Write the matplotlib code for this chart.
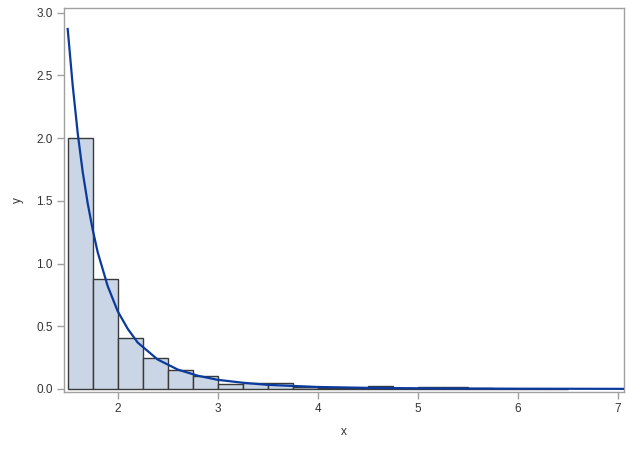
import matplotlib
matplotlib.use("Agg")
import matplotlib.pyplot as plt

# Histogram bins (left edges) and heights (density)
bin_left = [1.5, 1.75, 2.0, 2.25, 2.5, 2.75, 3.0, 3.25, 3.5, 3.75,
            4.0, 4.25, 4.5, 4.75, 5.0, 5.25, 5.5, 5.75, 6.0, 6.25]
bin_height = [2.00, 0.88, 0.41, 0.245, 0.15, 0.10, 0.04, 0.05, 0.045, 0.012,
              0.005, 0.005, 0.02, 0.008, 0.012, 0.012, 0.004, 0.003, 0.003, 0.003]
bin_width = 0.25

# Fitted density curve
curve_x = [1.5, 1.55, 1.6, 1.65, 1.7, 1.75, 1.8, 1.9, 2.0, 2.1, 2.2, 2.4,
           2.6, 2.8, 3.0, 3.25, 3.5, 4.0, 4.5, 5.0, 5.5, 6.0, 7.0, 7.06]
curve_y = [2.87, 2.42, 2.04, 1.73, 1.48, 1.27, 1.09, 0.82, 0.62, 0.48, 0.37, 0.235,
           0.155, 0.106, 0.073, 0.05, 0.033, 0.016, 0.009, 0.0055, 0.0035, 0.0023, 0.0011, 0.001]

x_ticks = [2, 3, 4, 5, 6, 7]
y_ticks = [0.0, 0.5, 1.0, 1.5, 2.0, 2.5, 3.0]

plt.rcParams['font.family'] = ['Liberation Sans', 'DejaVu Sans']

fig = plt.figure(figsize=(6.32, 4.5), dpi=100)
ax = fig.add_axes([64/632, 1-392/450, (624.3-64)/632, (392-8.3)/450])

ax.bar(bin_left, bin_height, width=bin_width, align='edge',
       color='#CAD5E5', edgecolor='#3a3a3a', linewidth=1.0, zorder=2)
ax.plot(curve_x, curve_y, color='#0B3A9E', linewidth=1.6, zorder=3)

ax.set_xlim(1.463, 7.066)
ax.set_ylim(-0.024, 3.035)
ax.set_xticks(x_ticks)
ax.set_xticklabels([str(v) for v in x_ticks])
ax.set_yticks(y_ticks)
ax.set_yticklabels([f"{v:.1f}" for v in y_ticks])

for s in ax.spines.values():
    s.set_color('#A0A0A0')
    s.set_linewidth(1.0)
ax.tick_params(axis='both', colors='#A0A0A0', labelcolor='#333333',
               length=5, width=1.0, labelsize=8.5, pad=3)

ax.set_xlabel('x', fontsize=8.5, color='#333333', labelpad=8)
ax.set_ylabel('y', fontsize=8.5, color='#333333', labelpad=9)

fig.savefig('out.png', dpi=100)
